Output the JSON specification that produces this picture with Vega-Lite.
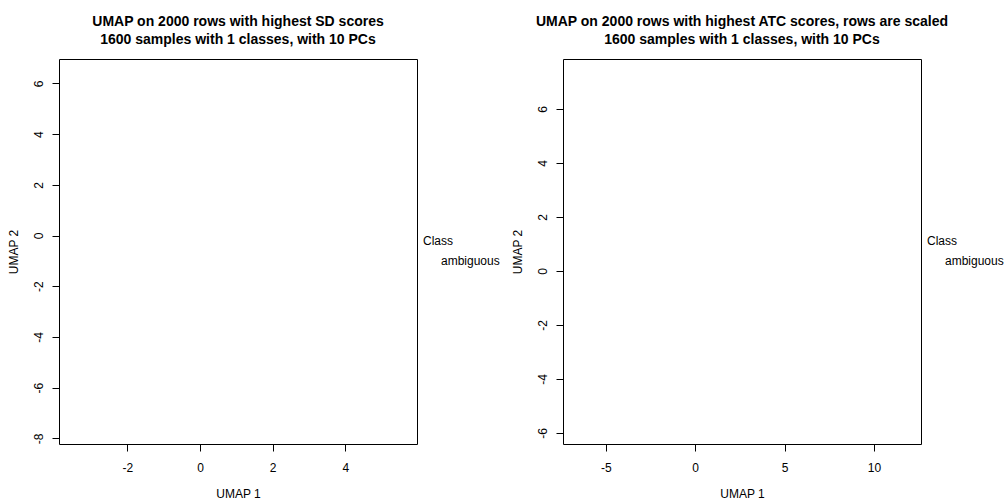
{
  "$schema": "https://vega.github.io/schema/vega-lite/v6.json",
  "background": "white",
  "padding": {"left": 6, "top": 14, "right": 0, "bottom": 0},
  "bounds": "flush",
  "spacing": 146,
  "resolve": {"scale": {"color": "independent"}, "legend": {"color": "independent"}},
  "config": {
    "font": "Liberation Sans",
    "view": {"stroke": "#000", "strokeWidth": 1},
    "axis": {"domain": false, "grid": false, "tickColor": "#000", "tickSize": 7, "labelColor": "#000", "labelFontSize": 12, "labelFont": "Liberation Sans", "titleFont": "Liberation Sans", "titleFontSize": 12, "titleFontWeight": "normal", "titleColor": "#000", "labelFlush": false, "labelOverlap": false},
    "axisX": {"labelPadding": 11, "titlePadding": 15},
    "axisY": {"labelAngle": 270, "labelAlign": "center", "labelBaseline": "alphabetic", "labelPadding": 10, "titlePadding": 12},
    "title": {"font": "Liberation Sans", "fontSize": 14, "fontWeight": "bold", "color": "#000", "lineHeight": 18, "offset": 12, "anchor": "middle"},
    "legend": {"titleFont": "Liberation Sans", "labelFont": "Liberation Sans", "titleFontSize": 12, "labelFontSize": 12, "titleFontWeight": "normal", "titleColor": "#000", "labelColor": "#000", "symbolOpacity": 0, "symbolStrokeWidth": 0, "symbolSize": 64, "labelOffset": 6, "titlePadding": 7}
  },
  "datasets": {
    "sd": [{"umap1": 0, "umap2": 0, "class": "ambiguous"}],
    "atc": [{"umap1": 0, "umap2": 0, "class": "ambiguous"}]
  },
  "hconcat": [
    {
      "title": {"text": ["UMAP on 2000 rows with highest SD scores", "1600 samples with 1 classes, with 10 PCs"]},
      "width": 358,
      "height": 385,
      "data": {"name": "sd"},
      "mark": {"type": "point", "filled": true, "opacity": 0},
      "encoding": {
        "x": {"field": "umap1", "type": "quantitative", "scale": {"domain": [-3.88, 5.97], "nice": false, "zero": false}, "axis": {"values": [-2, 0, 2, 4], "title": "UMAP 1", "labelExpr": "datum.value < 0 ? '-' + abs(datum.value) : '' + datum.value"}},
        "y": {"field": "umap2", "type": "quantitative", "scale": {"domain": [-8.22, 6.96], "nice": false, "zero": false}, "axis": {"values": [-8, -6, -4, -2, 0, 2, 4, 6], "title": "UMAP 2", "labelExpr": "datum.value < 0 ? '-' + abs(datum.value) : '' + datum.value"}},
        "color": {"field": "class", "type": "nominal", "scale": {"range": ["#ffffff"]}, "legend": {"title": "Class", "orient": "none", "legendX": 364, "legendY": 177}}
      }
    },
    {
      "title": {"text": ["UMAP on 2000 rows with highest ATC scores, rows are scaled", "1600 samples with 1 classes, with 10 PCs"]},
      "width": 358,
      "height": 385,
      "data": {"name": "atc"},
      "mark": {"type": "point", "filled": true, "opacity": 0},
      "encoding": {
        "x": {"field": "umap1", "type": "quantitative", "scale": {"domain": [-7.39, 12.63], "nice": false, "zero": false}, "axis": {"values": [-5, 0, 5, 10], "title": "UMAP 1", "labelExpr": "datum.value < 0 ? '-' + abs(datum.value) : '' + datum.value"}},
        "y": {"field": "umap2", "type": "quantitative", "scale": {"domain": [-6.41, 7.85], "nice": false, "zero": false}, "axis": {"values": [-6, -4, -2, 0, 2, 4, 6], "title": "UMAP 2", "labelExpr": "datum.value < 0 ? '-' + abs(datum.value) : '' + datum.value"}},
        "color": {"field": "class", "type": "nominal", "scale": {"range": ["#ffffff"]}, "legend": {"title": "Class", "orient": "none", "legendX": 364, "legendY": 177}}
      }
    }
  ]
}
